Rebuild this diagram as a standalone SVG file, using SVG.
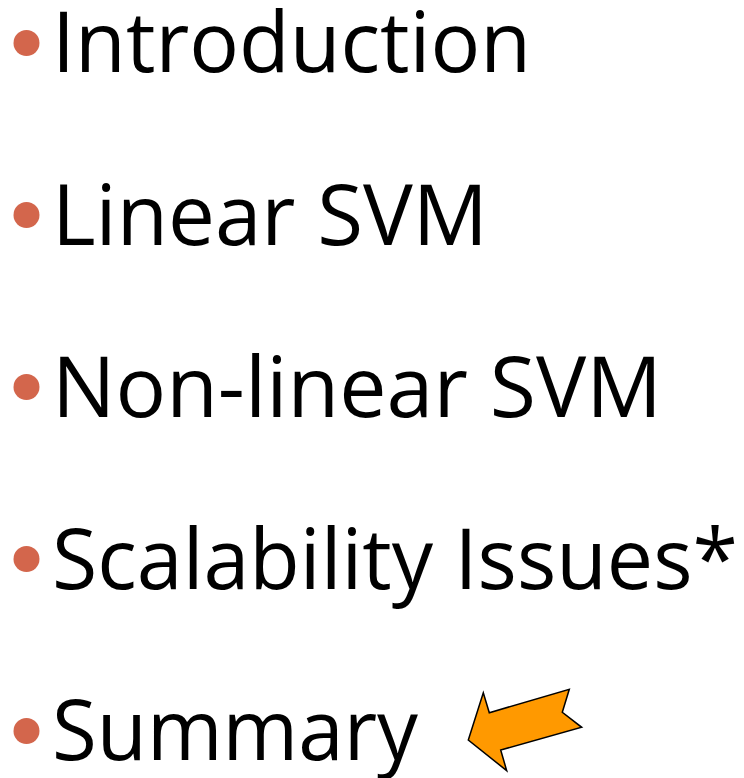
<svg xmlns="http://www.w3.org/2000/svg" width="744" height="778" viewBox="0 0 744 778">
<style>
.t{font-family:"Open Sans","Liberation Sans",sans-serif;font-size:84px;fill:#000}
.b{fill:#D3664C}
</style>
<rect width="744" height="778" fill="#fff"/>
<g id="item1"><circle class="b" cx="26.5" cy="43" r="13"/><text class="t" x="52" y="72" textLength="479" lengthAdjust="spacingAndGlyphs">Introduction</text></g>
<g id="item2"><circle class="b" cx="26.5" cy="215" r="13"/><text class="t" x="52" y="245" textLength="436" lengthAdjust="spacingAndGlyphs">Linear SVM</text></g>
<g id="item3"><circle class="b" cx="26.5" cy="387" r="13"/><text class="t" x="52" y="417" textLength="610" lengthAdjust="spacingAndGlyphs">Non-linear SVM</text></g>
<g id="item4"><circle class="b" cx="26.5" cy="559" r="13"/><text class="t" x="52" y="589" textLength="686" lengthAdjust="spacingAndGlyphs">Scalability Issues*</text></g>
<g id="item5"><circle class="b" cx="26.5" cy="731" r="13"/><text class="t" x="52" y="760" textLength="366" lengthAdjust="spacingAndGlyphs">Summary</text></g>
<g id="arrow"><polygon points="468.3,740 483.3,692.7 489.3,712.7 569.3,689.3 562.3,712.3 581.7,727.3 500.7,750 506.7,770.7" fill="#FF9900" stroke="#000" stroke-width="1.5" stroke-linejoin="miter"/></g>
</svg>
